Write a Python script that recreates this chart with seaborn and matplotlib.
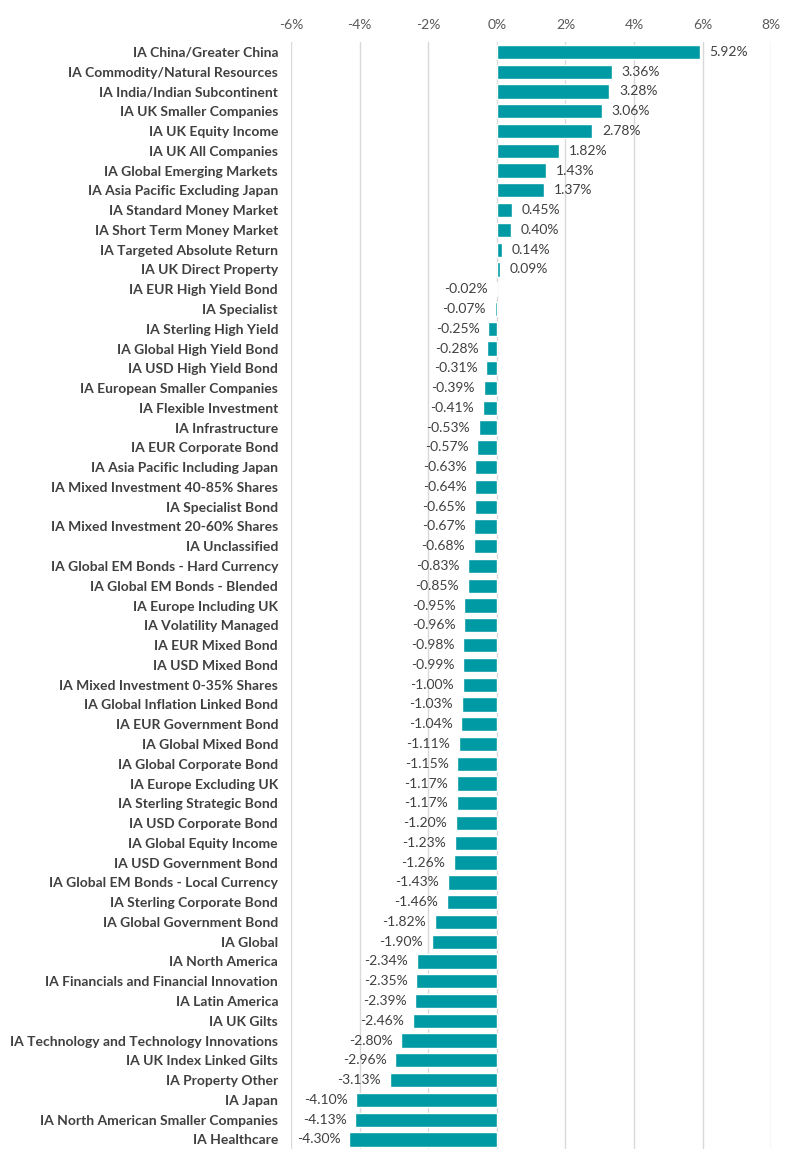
import matplotlib
matplotlib.use("Agg")
import matplotlib.pyplot as plt
import seaborn as sns
import pandas as pd
from matplotlib.ticker import FuncFormatter

# Dados do gráfico (retorno por setor IA)
setores = [
    "IA China/Greater China", "IA Commodity/Natural Resources", "IA India/Indian Subcontinent",
    "IA UK Smaller Companies", "IA UK Equity Income", "IA UK All Companies",
    "IA Global Emerging Markets", "IA Asia Pacific Excluding Japan", "IA Standard Money Market",
    "IA Short Term Money Market", "IA Targeted Absolute Return", "IA UK Direct Property",
    "IA EUR High Yield Bond", "IA Specialist", "IA Sterling High Yield",
    "IA Global High Yield Bond", "IA USD High Yield Bond", "IA European Smaller Companies",
    "IA Flexible Investment", "IA Infrastructure", "IA EUR Corporate Bond",
    "IA Asia Pacific Including Japan", "IA Mixed Investment 40-85% Shares", "IA Specialist Bond",
    "IA Mixed Investment 20-60% Shares", "IA Unclassified", "IA Global EM Bonds - Hard Currency",
    "IA Global EM Bonds - Blended", "IA Europe Including UK", "IA Volatility Managed",
    "IA EUR Mixed Bond", "IA USD Mixed Bond", "IA Mixed Investment 0-35% Shares",
    "IA Global Inflation Linked Bond", "IA EUR Government Bond", "IA Global Mixed Bond",
    "IA Global Corporate Bond", "IA Europe Excluding UK", "IA Sterling Strategic Bond",
    "IA USD Corporate Bond", "IA Global Equity Income", "IA USD Government Bond",
    "IA Global EM Bonds - Local Currency", "IA Sterling Corporate Bond", "IA Global Government Bond",
    "IA Global", "IA North America", "IA Financials and Financial Innovation",
    "IA Latin America", "IA UK Gilts", "IA Technology and Technology Innovations",
    "IA UK Index Linked Gilts", "IA Property Other", "IA Japan",
    "IA North American Smaller Companies", "IA Healthcare",
]
retornos = [
    5.92, 3.36, 3.28, 3.06, 2.78, 1.82, 1.43, 1.37, 0.45, 0.40, 0.14, 0.09,
    -0.02, -0.07, -0.25, -0.28, -0.31, -0.39, -0.41, -0.53, -0.57, -0.63, -0.64, -0.65,
    -0.67, -0.68, -0.83, -0.85, -0.95, -0.96, -0.98, -0.99, -1.00, -1.03, -1.04, -1.11,
    -1.15, -1.17, -1.17, -1.20, -1.23, -1.26, -1.43, -1.46, -1.82, -1.90, -2.34, -2.35,
    -2.39, -2.46, -2.80, -2.96, -3.13, -4.10, -4.13, -4.30,
]
ticks_x = [-6, -4, -2, 0, 2, 4, 6, 8]

df = pd.DataFrame({"Setor": setores, "Retorno": retornos})

sns.set_style("white")
plt.rcParams["font.family"] = ["Lato", "DejaVu Sans"]

cor_barra = "#009AA4"
cor_texto = "#404040"

fig = plt.figure(figsize=(8, 11.68), dpi=100)
ax = fig.add_axes([0.364, 0.016, 0.6, 0.948])

sns.barplot(data=df, x="Retorno", y="Setor", color=cor_barra, width=0.72,
            saturation=1, ax=ax, orient="h")

# Rótulos de valor
for i, v in enumerate(retornos):
    if v >= 0:
        ax.text(v + 0.28, i, f"{v:.2f}%", va="center", ha="left",
                fontsize=10, color=cor_texto)
    else:
        ax.text(v - 0.25, i, f"{v:.2f}%", va="center", ha="right",
                fontsize=10, color=cor_texto)

ax.set_xlim(-6, 8)
ax.set_ylim(len(setores) - 0.5, -0.5)
ax.set_xticks(ticks_x)
ax.xaxis.set_major_formatter(FuncFormatter(lambda x, p: f"{x:.0f}%"))
ax.xaxis.tick_top()
ax.tick_params(axis="x", length=0, pad=8, labelsize=10, colors="#595959")
ax.tick_params(axis="y", length=0, pad=9.5, labelsize=10, colors=cor_texto)
for lbl in ax.get_yticklabels():
    lbl.set_fontweight("bold")
ax.grid(axis="x", color="#D9D9D9", linewidth=1)
ax.set_axisbelow(True)
ax.set_xlabel("")
ax.set_ylabel("")
for s in ax.spines.values():
    s.set_visible(False)

plt.savefig("out.png", dpi=100)
